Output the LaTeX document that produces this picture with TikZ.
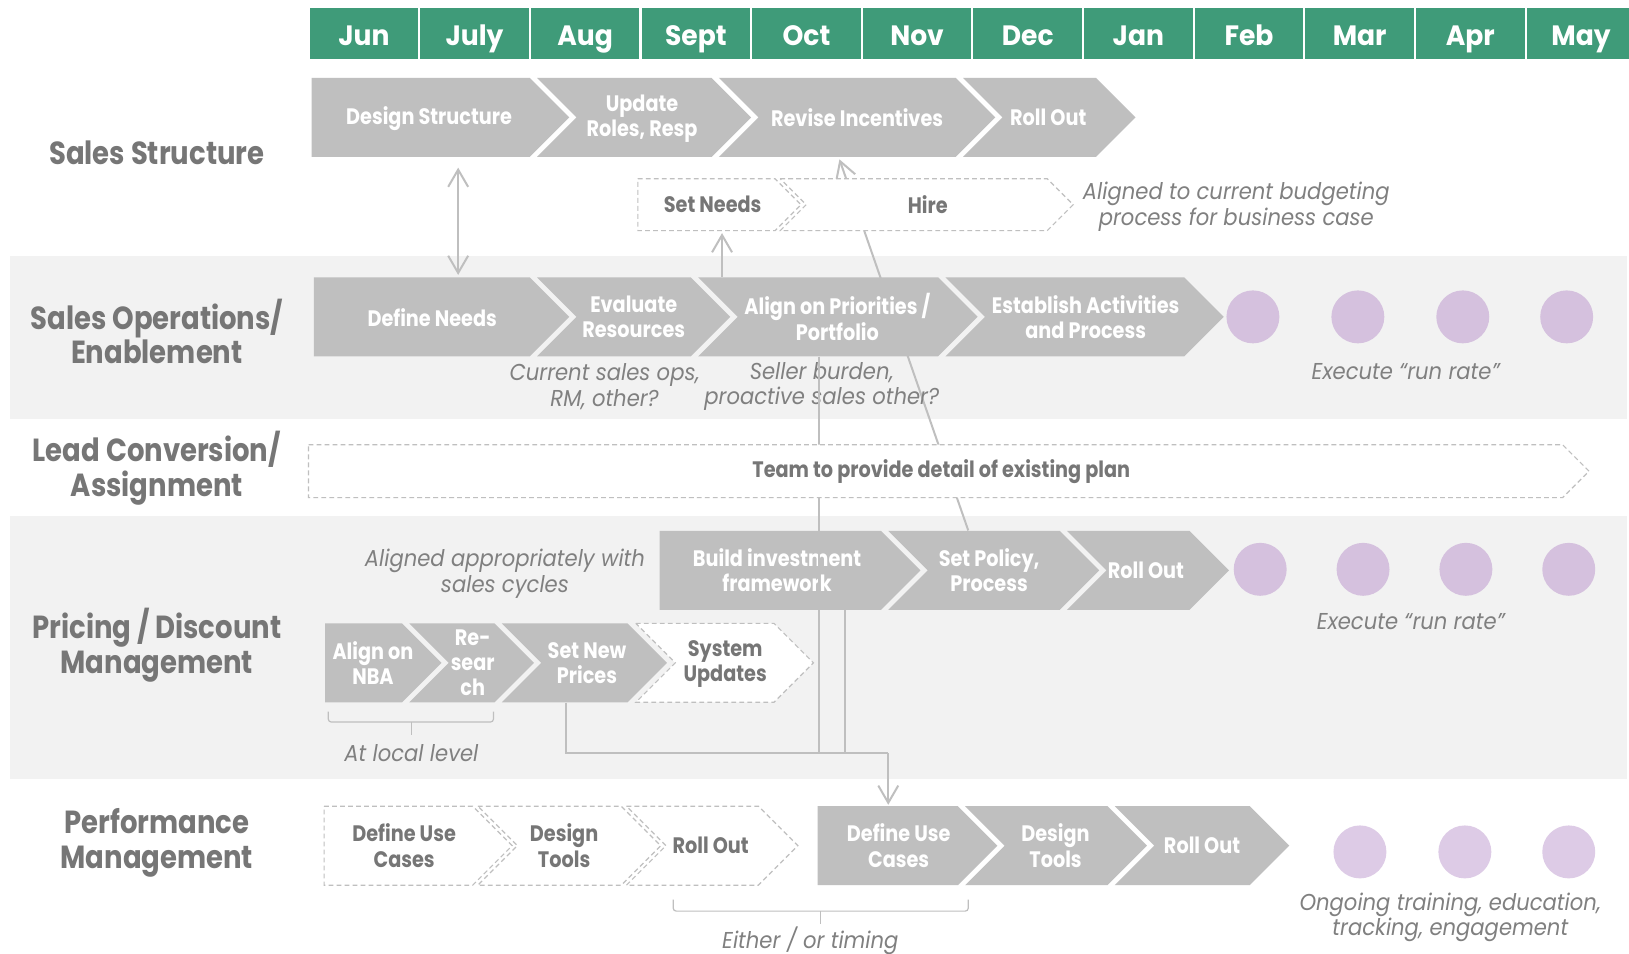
\documentclass[tikz,border=0pt]{standalone}
\usepackage{fontspec}
\setmainfont{Poppins}[FakeStretch=0.86]
\newfontfamily\hdfont{Poppins}[FakeStretch=0.95]
\newfontfamily\notefont{Poppins}[FakeStretch=0.92]
\usetikzlibrary{arrows.meta,calc}

\definecolor{hdgreen}{HTML}{3F9B79}
\definecolor{chevgrey}{HTML}{BFBFBF}
\definecolor{bandgrey}{HTML}{F2F2F2}
\definecolor{labgrey}{HTML}{767676}
\definecolor{notegrey}{HTML}{808080}
\definecolor{lilac}{HTML}{D5C1DE}
\definecolor{lilacpale}{HTML}{DDCBE6}

\pgfdeclarelayer{bands}
\pgfdeclarelayer{links}
\pgfdeclarelayer{front}
\pgfsetlayers{bands,links,main,front}

% chevron: [style](left : right corner : middle y : half height : notch depth)
\def\chev[#1](#2:#3:#4:#5:#6){\filldraw[#1] (#2,#4-#5) -- (#3,#4-#5) -- (#3+#5,#4) -- (#3,#4+#5) -- (#2,#4+#5) -- (#2+#6,#4) -- cycle;}

\tikzset{
  chev/.style={fill=chevgrey, draw=none},
  chevdash/.style={fill=white, draw=chevgrey, line width=0.6pt, dash pattern=on 2.4pt off 1.6pt},
  chevtxt/.style={text=white, font=\fontsize{11.2}{12.7}\selectfont\bfseries, align=center, inner sep=0pt, minimum height=39.52pt},
  dashtxt/.style={chevtxt, text=labgrey},
  rowlabel/.style={text=labgrey, font=\fontsize{16}{17.4}\selectfont\bfseries, align=center},
  month/.style={text=white, font=\hdfont\fontsize{14}{16}\selectfont\bfseries, anchor=base},
  note/.style={text=notegrey, font=\notefont\fontsize{11.5}{13}\selectfont\itshape, align=center},
  runrate/.style={circle, fill=lilac, inner sep=0pt, minimum size=26.5pt},
  wire/.style={draw=chevgrey, line width=1pt},
  wirearrow/.style={-{Straight Barb[length=8.6pt,width=10pt]}},
  wirebi/.style={{Straight Barb[length=8.6pt,width=10pt]}-{Straight Barb[length=8.6pt,width=10pt]}},
}

\begin{document}
\begin{tikzpicture}[x=0.52pt, y=-0.52pt]
	%%%%% START %%%%%
	\useasboundingbox (0,0) rectangle (1568,918);
	
	\begin{pgfonlayer}{bands}
		\fill[white] (0,0) rectangle (1568,918);
		\fill[bandgrey] (10,246) rectangle (1566,403);
		\fill[bandgrey] (10,497) rectangle (1566,750);
	\end{pgfonlayer}
	
	% months
	\foreach \m [count=\i from 0] in {Jun,July,Aug,Sept,Oct,Nov,Dec,Jan,Feb,Mar,Apr,May}{
		\fill[hdgreen] (298+\i*106.5,8) rectangle (402.5+\i*106.5,57);
		\node[month] (mon\i) at (350.25+\i*106.5,44) {\m};
	}
	
	% row labels
	\node[rowlabel] (lab1) at (151,147) {Sales Structure};
	\node[rowlabel] (lab2) at (151,319) {Sales Operations/\\Enablement};
	\node[rowlabel] (lab3) at (151,451) {Lead Conversion/\\Assignment};
	\node[rowlabel] (lab4) at (151,621) {Pricing / Discount\\Management};
	\node[rowlabel] (lab5) at (151,811) {Performance\\Management};
	
	% sales structure
	\chev[chev](300:510:113:38:0)
	\node[chevtxt] (designst) at (413,114) {Design Structure};
	\chev[chev](517:685:113:38:38)
	\node[chevtxt] (roles) at (618,114) {Update\\Roles, Resp};
	\chev[chev](692:920:113:38:38)
	\node[chevtxt] (incent) at (825,113) {Revise Incentives};
	\chev[chev](927:1055:113:38:38)
	\node[chevtxt] (rollss) at (1009,113) {Roll Out};
	
	\chev[chevdash](614:746:197:25:0)
	\node[dashtxt, minimum height=26pt] (setneeds) at (686,197) {Set Needs};
	\chev[chevdash](751:1008:197:25:25)
	\node[dashtxt, minimum height=26pt] (hire) at (893,197) {Hire};
	\node[note] (budget) at (1190,199) {Aligned to current budgeting\\process for business case};
	
	% sales operations
	\chev[chev](302:510:305:38:0)
	\node[chevtxt] (defneeds) at (416,306) {Define Needs};
	\chev[chev](517:665:305:38:38)
	\node[chevtxt] (evalres) at (610,305) {Evaluate\\Resources};
	\chev[chev](672:903:305:38:38)
	\node[chevtxt] (alignprio) at (806,305) {Align on Priorities /\\Portfolio};
	\chev[chev](910:1140:305:38:38)
	\node[chevtxt] (establish) at (1045,305) {Establish Activities\\and Process};
	\foreach \x [count=\i] in {1206,1307,1408,1508}
		\node[runrate] (ops\i) at (\x,305) {};
	\node[note] (opsnote) at (582,372) {Current sales ops,\\RM, other?};
	\node[note] (sellnote) at (791,372) {Seller burden,\\proactive sales other?};
	\node[note] (exec1) at (1353,358) {Execute “run rate”};
	
	% pricing / discount
	\chev[chev](635:848:549:38:0)
	\node[chevtxt] (buildinv) at (748,549) {Build investment\\framework};
	\chev[chev](855:1020:549:38:38)
	\node[chevtxt] (setpol) at (952,549) {Set Policy,\\Process};
	\chev[chev](1027:1145:549:38:38)
	\node[chevtxt] (rollpr) at (1103,549) {Roll Out};
	\foreach \x [count=\i] in {1213,1312,1411,1510}
		\node[runrate] (prc\i) at (\x,548) {};
	\node[note] (cycles) at (486,552) {Aligned appropriately with\\sales cycles};
	\node[note] (exec2) at (1358,598) {Execute “run rate”};
	
	\chev[chev](313:387:638:38:0)
	\node[chevtxt] (nba) at (359,638) {Align on\\NBA};
	\chev[chev](394:476:638:38:38)
	\node[chevtxt] (research) at (455,638) {Re-\\sear\\ch};
	\chev[chev](483:604:638:38:38)
	\node[chevtxt] (setprices) at (565,638) {Set New\\Prices};
	\chev[chevdash](612:745:638:38:38)
	\node[dashtxt] (sysupd) at (698,639) {System\\Updates};
	\draw[wire, line width=0.6pt, rounded corners=1.5pt] (316,685) -- (316,695) -- (475,695) -- (475,685);
	\draw[wire, line width=0.6pt] (396,695) -- (396,707);
	\node[note] (lvl) at (396,725) {At local level};
	
	% performance management
	\chev[chevdash](312:455:814:38:0)
	\node[dashtxt] (usecase1) at (389,814) {Define Use\\Cases};
	\chev[chevdash](460:598:814:38:38)
	\node[dashtxt] (tools1) at (543,814) {Design\\Tools};
	\chev[chevdash](603:730:814:38:38)
	\node[dashtxt] (rollpf1) at (684,814) {Roll Out};
	\chev[chev](787:922:814:38:0)
	\node[chevtxt] (usecase) at (865,814) {Define Use\\Cases};
	\chev[chev](929:1066:814:38:38)
	\node[chevtxt] (tools) at (1016,814) {Design\\Tools};
	\chev[chev](1073:1203:814:38:38)
	\node[chevtxt] (rollpf) at (1157,814) {Roll Out};
	\foreach \x [count=\i] in {1309,1410,1510}
		\node[runrate, fill=lilacpale] (perf\i) at (\x,820) {};
	\draw[wire, line width=0.6pt, rounded corners=1.5pt] (648,866) -- (648,877) -- (932,877) -- (932,866);
	\draw[wire, line width=0.6pt] (790,877) -- (790,889);
	\node[note] (either) at (780,906) {Either / or timing};
	\node[note] (ongoing) at (1396,883) {Ongoing training, education,\\tracking, engagement};
	
	% links
	\begin{pgfonlayer}{links}
		\draw[wire, wirearrow] ([shift={(-20,0)}]setpol.north) -- ([shift={(-17,2)}]incent.south);
	\end{pgfonlayer}
	\draw[wire, wirebi] ([shift={(28,9)}]designst.south) -- ([shift={(25,-3)}]defneeds.north);
	\draw[wire, wirearrow] ([shift={(-111,0)}]alignprio.north) -- ([shift={(9,2)}]setneeds.south);
	\coordinate (merge) at (855,725);
	\draw[wire] ([shift={(-20,0)}]setprices.south) |- (merge);
	\draw[wire] ([shift={(65,0)}]buildinv.south) coordinate (bv) -- (bv |- merge);
	\draw[wire] ([shift={(-18,0)}]alignprio.south) coordinate (ap) -- (ap |- merge);
	\draw[wire, wirearrow] (merge) -- ([shift={(-10,-1)}]usecase.north);
	
	% lead conversion
	\begin{pgfonlayer}{front}
		\chev[chevdash](297:1504:453.5:25.5:0)
		\node[dashtxt, minimum height=26.5pt] (team) at (906,454) {Team to provide detail of existing plan};
	\end{pgfonlayer}
	%%%%% END %%%%%
\end{tikzpicture}
\end{document}
